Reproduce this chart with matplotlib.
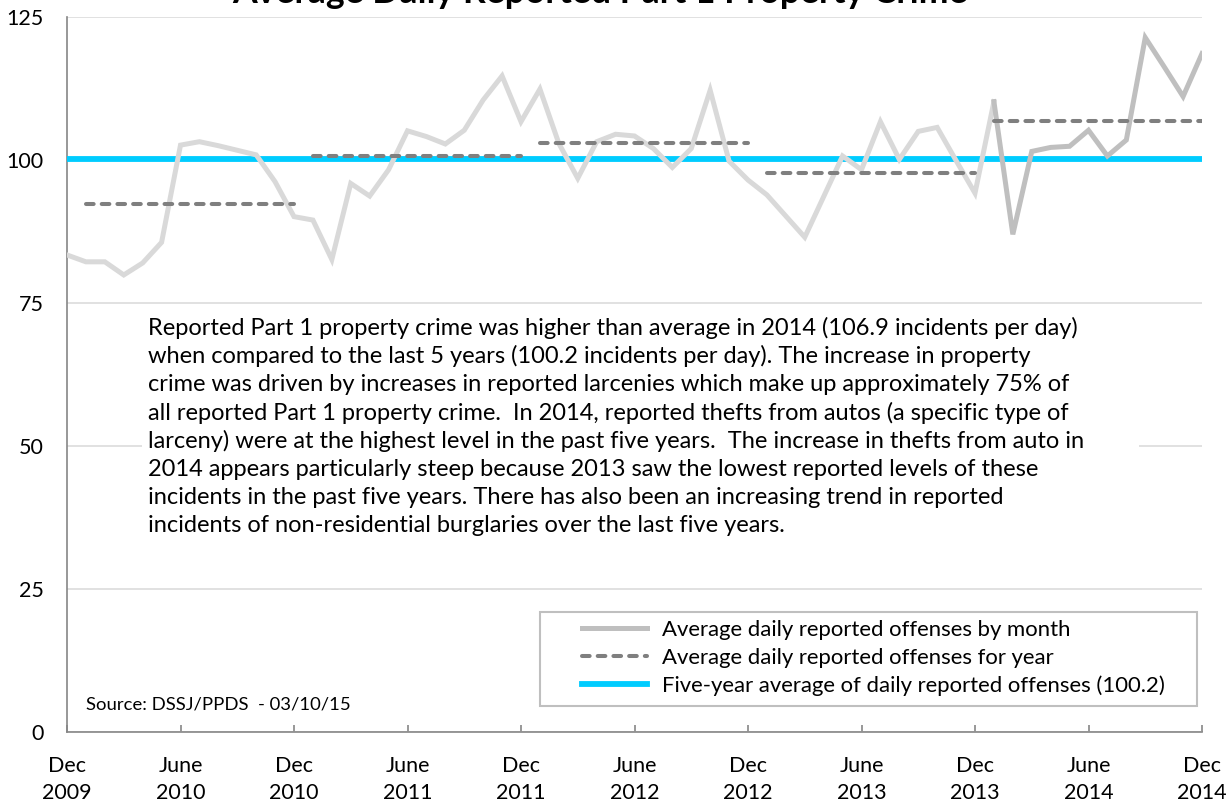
import numpy as np
import matplotlib.pyplot as plt
from matplotlib.lines import Line2D
from matplotlib.patches import Rectangle

plt.rcParams['font.family'] = ['Lato', 'DejaVu Sans']

# average daily reported offenses, Dec 2009 .. Dec 2014
monthly = [83.4,
           82.2, 82.2, 79.9, 82.0, 85.6, 102.6, 103.2, 102.5, 101.7, 100.9, 96.2, 90.1,
           89.5, 82.6, 95.9, 93.7, 98.3, 105.1, 104.1, 102.8, 105.2, 110.5, 114.7, 106.7,
           112.4, 102.9, 96.8, 103.2, 104.5, 104.2, 102.0, 98.7, 102.0, 112.2, 99.8, 96.5,
           93.9, 90.2, 86.5, 93.6, 100.7, 98.3, 106.7, 100.1, 105.0, 105.7, 99.9, 94.2,
           110.2, 87.0, 101.5, 102.2, 102.4, 105.2, 100.7, 103.5, 121.4, 116.3, 111.1, 118.6]
years = [2010, 2011, 2012, 2013, 2014]
yearly = [92.3, 100.7, 102.9, 97.7, 106.9]
five_year_avg = 100.2

tick_labels = ['Dec\n2009', 'June\n2010', 'Dec\n2010', 'June\n2011', 'Dec\n2011', 'June\n2012',
               'Dec\n2012', 'June\n2013', 'Dec\n2013', 'June\n2014', 'Dec\n2014']
yticks = [0, 25, 50, 75, 100, 125]

note_lines = [
    "Reported Part 1 property crime was higher than average in 2014 (106.9 incidents per day)",
    "when compared to the last 5 years (100.2 incidents per day). The increase in property",
    "crime was driven by increases in reported larcenies which make up approximately 75% of",
    "all reported Part 1 property crime.  In 2014, reported thefts from autos (a specific type of",
    "larceny) were at the highest level in the past five years.  The increase in thefts from auto in",
    "2014 appears particularly steep because 2013 saw the lowest reported levels of these",
    "incidents in the past five years. There has also been an increasing trend in reported",
    "incidents of non-residential burglaries over the last five years.",
]

LIGHT = '#d9d9d9'
DARK = '#bfbfbf'
DASH = '#7f7f7f'
CYAN = '#00ccff'
AXIS = '#868686'

W, H = 1231, 801
fig = plt.figure(figsize=(W / 100, H / 100), dpi=100)
ax = fig.add_axes([67 / W, 69 / H, 1135 / W, 715 / H])

x = np.arange(len(monthly))
split = len(monthly) - 12  # Jan 2014

ax.plot([x[0], x[-1]], [five_year_avg] * 2, color=CYAN, lw=4.2, zorder=3, solid_capstyle='butt')
ax.plot(x[:split + 1], monthly[:split + 1], color=LIGHT, lw=3.6, zorder=4, solid_joinstyle='miter')
ax.plot(x[split:], monthly[split:], color=DARK, lw=3.6, zorder=4, solid_joinstyle='miter')
for i, v in enumerate(yearly):
    ax.plot([1 + 12 * i, 12 + 12 * i], [v, v], color=DASH, lw=2.9, zorder=5,
            dashes=(1.9, 2.0), dash_capstyle='round')

ax.set_xlim(0, len(monthly) - 1)
ax.set_ylim(0, 125)
ax.set_yticks(yticks)
ax.set_xticks(np.arange(0, len(monthly), 6))
ax.set_xticklabels(tick_labels)
ax.grid(axis='y', color=LIGHT, lw=1.1, zorder=0)
ax.set_axisbelow(True)
for s in ['top', 'right']:
    ax.spines[s].set_visible(False)
for s in ['left', 'bottom']:
    ax.spines[s].set_color(AXIS)
    ax.spines[s].set_linewidth(1.2)
ax.tick_params(axis='y', length=0, pad=17, labelsize=15.5)
ax.tick_params(axis='x', direction='in', length=5, width=1.2, color=AXIS, pad=17, labelsize=15.5)
for lbl in ax.get_xticklabels():
    lbl.set_linespacing(1.45)

# white text box that hides the gridline behind the note
ax.add_patch(Rectangle(((142 - 67) / 1135, (732 - 580) / 715), (1139 - 142) / 1135, (580 - 312) / 715,
                       transform=ax.transAxes, facecolor='white', edgecolor='none', zorder=1))
for i, line in enumerate(note_lines):
    fig.text(148 / W, 1 - (328 + i * 28.2) / H, line, fontsize=17, va='center', ha='left')

fig.text(600 / W, 1 - 3 / H, "Average Daily Reported Part 1 Property Crime", fontsize=25.7,
         fontweight='bold', ha='center', va='baseline')
fig.text(86 / W, 1 - 705 / H, "Source: DSSJ/PPDS  - 03/10/15", fontsize=13.3, va='center', ha='left')

# legend frame drawn by hand, entries placed inside it
fig.patches.append(Rectangle((540 / W, 1 - 706 / H), 657 / W, 94 / H, transform=fig.transFigure,
                             facecolor='white', edgecolor=DARK, lw=1.5, zorder=6))
handles = [Line2D([], [], color=DARK, lw=3.6),
           Line2D([], [], color=DASH, lw=2.9, dashes=(1.9, 2.0), dash_capstyle='round'),
           Line2D([], [], color=CYAN, lw=4.2)]
labels = ["Average daily reported offenses by month",
          "Average daily reported offenses for year",
          "Five-year average of daily reported offenses (100.2)"]
leg = fig.legend(handles, labels, loc='upper left', bbox_to_anchor=(582 / W, 1 - 620 / H),
                 fontsize=15.9, frameon=False, handlelength=2.95,
                 handletextpad=0.68, labelspacing=0.35, borderpad=0, borderaxespad=0)
leg.set_zorder(7)

fig.savefig('out.png', dpi=100)
